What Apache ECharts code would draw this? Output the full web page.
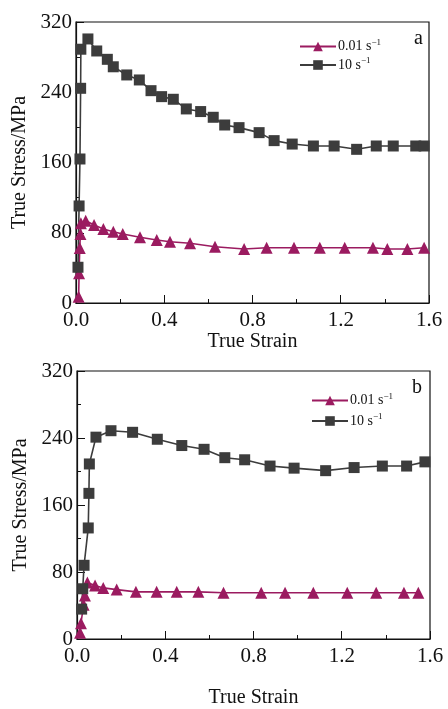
<!DOCTYPE html>
<html><head><meta charset="utf-8">
<script src="https://cdn.jsdelivr.net/npm/echarts@6/dist/echarts.min.js"></script>
<style>html,body{margin:0;padding:0;background:#fff}#c{width:448px;height:709px}</style>
</head><body><div id="c"></div>
<script>
// Panel a
const aStrain10 = [0.009, 0.014, 0.018, 0.021, 0.022, 0.054, 0.094, 0.142, 0.169, 0.23, 0.287, 0.34, 0.388, 0.441, 0.50, 0.565, 0.622, 0.674, 0.739, 0.83, 0.898, 0.98, 1.076, 1.17, 1.272, 1.361, 1.438, 1.54, 1.578];
const aStress10 = [40.7, 110.5, 164, 244.5, 289, 300.7, 287, 277.5, 269, 259.7, 254, 241.8, 235, 232, 221, 218, 211.5, 202.7, 199.7, 194, 184.9, 181, 178.8, 178.8, 175, 178.8, 178.8, 178.8, 178.8];
const aStrain001 = [0.012, 0.014, 0.017, 0.02, 0.022, 0.044, 0.082, 0.124, 0.169, 0.212, 0.29, 0.366, 0.426, 0.517, 0.63, 0.762, 0.864, 0.988, 1.105, 1.218, 1.346, 1.411, 1.502, 1.578];
const aStress001 = [7, 34, 62.6, 78.6, 90.7, 93.8, 88.8, 84.3, 81.2, 78.6, 74.8, 71.8, 69.8, 68, 64.1, 61.5, 63, 63, 63, 63, 63, 61.5, 61.5, 63];
// Panel b
const bStrain10 = [0.021, 0.026, 0.032, 0.051, 0.054, 0.056, 0.086, 0.154, 0.252, 0.364, 0.475, 0.576, 0.67, 0.76, 0.875, 0.984, 1.127, 1.256, 1.384, 1.494, 1.577];
const bStress10 = [35.7, 60, 88, 132.6, 173.9, 209, 241, 248.7, 246.8, 238.5, 231, 226.5, 216.5, 214, 206.5, 204, 201, 204.7, 206.5, 206.5, 211.5];
const bStrain001 = [0.014, 0.018, 0.03, 0.036, 0.047, 0.082, 0.119, 0.18, 0.267, 0.361, 0.452, 0.55, 0.664, 0.835, 0.943, 1.071, 1.225, 1.356, 1.482, 1.547];
const bStress001 = [7.5, 18.8, 41, 52, 67.6, 64, 61, 59, 56.3, 56.3, 56.3, 56.3, 55.2, 55.2, 55.2, 55.2, 55.2, 55.2, 55.2, 55.2];

const seriesNames = ['0.01', '10'];
const panelLabels = ['a', 'b'];
const xTitle = 'True Strain';
const yTitle = 'True Stress/MPa';

const zip = (xs, ys) => xs.map((x, i) => [x, ys[i]]);
const FONT = 'Liberation Serif';
const C1 = '#9b1b60', C2 = '#3c3c3c';

function xAx(g) {
  return {
    gridIndex: g, type: 'value', min: 0, max: 1.6, interval: 0.4,
    name: xTitle, nameLocation: 'middle', nameGap: g === 0 ? 29 : 49,
    nameTextStyle: { fontFamily: FONT, fontSize: 20, color: '#111' },
    axisLine: { lineStyle: { color: '#111', width: 1.2 } },
    axisTick: { inside: true, length: 8, lineStyle: { color: '#111' } },
    minorTick: { show: true, splitNumber: 2, length: 4, lineStyle: { color: '#111' } },
    splitLine: { show: false },
    axisLabel: { fontFamily: FONT, fontSize: 21, color: '#111', margin: 7, formatter: v => v.toFixed(1) }
  };
}
function yAx(g) {
  return {
    gridIndex: g, type: 'value', min: 0, max: 320, interval: 80,
    name: yTitle, nameLocation: 'middle', nameGap: 42,
    nameTextStyle: { fontFamily: FONT, fontSize: 20, color: '#111' },
    axisLine: { lineStyle: { color: '#111', width: 1.2 } },
    axisTick: { inside: true, length: 8, lineStyle: { color: '#111' } },
    minorTick: { show: true, splitNumber: 2, length: 4, lineStyle: { color: '#111' } },
    splitLine: { show: false },
    axisLabel: { fontFamily: FONT, fontSize: 21, color: '#111', margin: 4 }
  };
}
function ser(name, g, data, color, sym, size) {
  return {
    name, type: 'line', xAxisIndex: g, yAxisIndex: g, data,
    symbol: sym, symbolSize: size, showSymbol: true,
    lineStyle: { color, width: 1.6 }, itemStyle: { color },
    animation: false
  };
}
function legend(left, top, gap) {
  return {
    orient: 'vertical', left, top, itemGap: gap, itemWidth: 36, itemHeight: 12,
    data: seriesNames,
    formatter: n => n + ' s{sup|\u22121}',
    textStyle: { fontFamily: FONT, fontSize: 14, color: '#111', padding: [0, 0, 0, -3],
      rich: { sup: { fontFamily: FONT, fontSize: 9, color: '#111', verticalAlign: 'top', padding: [0, 0, 8, 0] } } }
  };
}

const chart = echarts.init(document.getElementById('c'), null, { renderer: 'canvas' });
chart.setOption({
  backgroundColor: '#fff',
  animation: false,
  grid: [
    { left: 76, top: 22, width: 353, height: 281, show: true, borderColor: '#111', borderWidth: 1.2 },
    { left: 77, top: 371, width: 353, height: 284, show: true, borderColor: '#111', borderWidth: 1.2 }
  ],
  xAxis: [xAx(0), xAx(1)],
  yAxis: [yAx(0), yAx(1)],
  legend: [legend(294, 33, 3), legend(306, 387, 5)],
  title: [
    { text: panelLabels[0], left: 409, top: 24, textStyle: { fontFamily: FONT, fontSize: 20, fontWeight: 'normal', color: '#111' } },
    { text: panelLabels[1], left: 407, top: 373, textStyle: { fontFamily: FONT, fontSize: 20, fontWeight: 'normal', color: '#111' } }
  ],
  series: [
    ser(seriesNames[0], 0, zip(aStrain001, aStress001), C1, 'triangle', 12),
    ser(seriesNames[1], 0, zip(aStrain10, aStress10), C2, 'rect', 11),
    ser(seriesNames[0], 1, zip(bStrain001, bStress001), C1, 'triangle', 12),
    ser(seriesNames[1], 1, zip(bStrain10, bStress10), C2, 'rect', 11)
  ]
});
</script></body></html>
